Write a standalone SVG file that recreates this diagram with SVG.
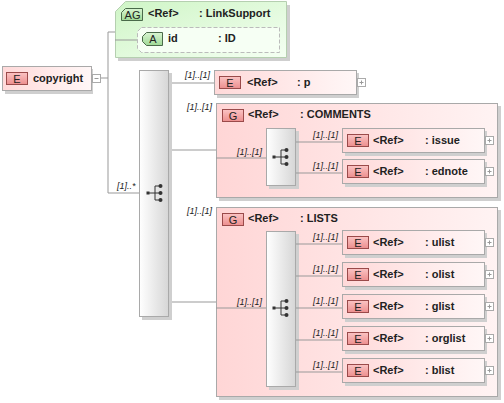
<svg xmlns="http://www.w3.org/2000/svg" width="504" height="403" viewBox="0 0 504 403">
<defs>
<linearGradient id="gEl" x1="0" y1="0" x2="1" y2="0"><stop offset="0" stop-color="#ffd9d9"/><stop offset="1" stop-color="#fff7f7"/></linearGradient>
<linearGradient id="gGrp" x1="0" y1="0" x2="1" y2="0"><stop offset="0" stop-color="#ffd6d6"/><stop offset="1" stop-color="#fff3f3"/></linearGradient>
<linearGradient id="gSeq" x1="0" y1="0" x2="1" y2="0"><stop offset="0" stop-color="#ffffff"/><stop offset="1" stop-color="#d6d6d6"/></linearGradient>
<linearGradient id="gBadge" x1="0" y1="0" x2="0" y2="1"><stop offset="0" stop-color="#fbc4c4"/><stop offset="1" stop-color="#ec8e8e"/></linearGradient>
<linearGradient id="gGreen" x1="0" y1="0" x2="1" y2="1"><stop offset="0" stop-color="#cff5c6"/><stop offset="1" stop-color="#f4fff2"/></linearGradient>
<linearGradient id="gGBadge" x1="0" y1="0" x2="0" y2="1"><stop offset="0" stop-color="#d9f5d2"/><stop offset="1" stop-color="#9fd996"/></linearGradient>
<g id="seqIcon">
<rect x="-8.5" y="-1.5" width="3" height="3" fill="#333"/>
<path d="M-6 0H0M0 -7V7M0 -7H5M0 0H5M0 7H5" stroke="#333" stroke-width="1" fill="none"/>
<circle cx="5.5" cy="-7" r="2" fill="#333"/><circle cx="5.5" cy="0" r="2" fill="#333"/><circle cx="5.5" cy="7" r="2" fill="#333"/>
</g>
<g id="plus"><rect x="0.5" y="0.5" width="8" height="8" fill="#fff" stroke="#aaa"/><path d="M2.5 4.5H6.5M4.5 2.5V6.5" stroke="#999"/></g>
</defs>
<style>
.t{font-family:"Liberation Sans",Arial,sans-serif;font-size:11px;font-weight:bold;fill:#222}
.c{font-family:"Liberation Sans",Arial,sans-serif;font-size:9px;font-style:italic;fill:#222}
.bl{font-family:"Liberation Sans",Arial,sans-serif;font-size:11px;fill:#222;text-anchor:middle}
.el{fill:url(#gEl);stroke:#a9a9a9}
.grp{fill:url(#gGrp);stroke:#a9a9a9}
.sh{fill:#cfcfcf}
.seq{fill:url(#gSeq);stroke:#a9a9a9}
.bd{fill:url(#gBadge);stroke:#9a4a4a}
.ln{stroke:#999;fill:none}
</style>
<g id="COMMENTS">
<rect class="sh" x="219" y="106" width="282" height="95"/>
<rect class="grp" x="216.5" y="103.5" width="281" height="94"/>
<rect class="bd" x="222.5" y="109.5" width="21" height="12"/>
<text class="bl" x="233" y="119.5">G</text>
<text class="t" x="248" y="118">&lt;Ref&gt;</text>
<text class="t" x="300" y="118">: COMMENTS</text>
<rect class="sh" x="269" y="131" width="30" height="58"/>
<rect class="seq" x="266.5" y="128.5" width="29" height="57"/>
<use href="#seqIcon" x="281" y="157"/>
</g>
<g id="LISTS">
<rect class="sh" x="219" y="210" width="282" height="190"/>
<rect class="grp" x="216.5" y="207.5" width="281" height="189"/>
<rect class="bd" x="222.5" y="213.5" width="21" height="12"/>
<text class="bl" x="233" y="223.5">G</text>
<text class="t" x="248" y="222">&lt;Ref&gt;</text>
<text class="t" x="300" y="222">: LISTS</text>
<rect class="sh" x="269" y="234" width="30" height="156"/>
<rect class="seq" x="266.5" y="231.5" width="29" height="155"/>
<use href="#seqIcon" x="281" y="308"/>
</g>
<g id="connectors">
<path class="ln" d="M100 78H108M108 32V193H139M108 32H115M115 40H137"/>
<path class="ln" d="M169 83H214M169 150H216M169 302H216"/>
<path class="ln" d="M216 158H266M296 142H342M296 173H342"/>
<path class="ln" d="M216 308H266M296 244H342M296 276H342M296 308H342M296 340H342M296 372H342"/>
<text class="c" x="117" y="189">[1]..*</text>
<text class="c" x="210" y="78" text-anchor="end">[1]..[1]</text>
<text class="c" x="212" y="110" text-anchor="end">[1]..[1]</text>
<text class="c" x="262" y="155" text-anchor="end">[1]..[1]</text>
<text class="c" x="338" y="138" text-anchor="end">[1]..[1]</text>
<text class="c" x="338" y="169" text-anchor="end">[1]..[1]</text>
<text class="c" x="212" y="214" text-anchor="end">[1]..[1]</text>
<text class="c" x="262" y="305" text-anchor="end">[1]..[1]</text>
<text class="c" x="338" y="240" text-anchor="end">[1]..[1]</text>
<text class="c" x="338" y="272" text-anchor="end">[1]..[1]</text>
<text class="c" x="338" y="304" text-anchor="end">[1]..[1]</text>
<text class="c" x="338" y="336" text-anchor="end">[1]..[1]</text>
<text class="c" x="338" y="368" text-anchor="end">[1]..[1]</text>
</g>
<g id="copyright">
<rect class="sh" x="5" y="69" width="88" height="25"/>
<rect class="el" x="2.5" y="66.5" width="89" height="24"/>
<rect class="bd" x="6.5" y="72.5" width="21" height="12"/>
<text class="bl" x="17" y="82.5">E</text>
<text class="t" x="33" y="82">copyright</text>
<rect x="92.5" y="74.5" width="8" height="8" fill="#fff" stroke="#aaa"/><path d="M94.5 78.5H98.5" stroke="#999"/>
</g>
<g id="LinkSupport">
<polygon class="sh" points="128,5 290,5 290,61 118,61 118,15"/>
<polygon points="125.5,1.5 286.5,1.5 286.5,57.5 115.5,57.5 115.5,11.5" fill="url(#gGreen)" stroke="#b5cfb0"/>
<path class="ln" d="M115 40H137"/>
<polygon points="125.5,8.5 142.5,8.5 142.5,20.5 121.5,20.5 121.5,12.5" fill="url(#gGBadge)" stroke="#4a6a4a"/>
<text class="bl" x="132.5" y="18.5">AG</text>
<text class="t" x="148" y="17">&lt;Ref&gt;</text>
<text class="t" x="199" y="17">: LinkSupport</text>
<g id="attr-id">
<polygon points="141.5,27.5 279.5,27.5 279.5,52.5 141.5,52.5 137.5,48.5 137.5,31.5" fill="#f6fff4" stroke="#bbb" stroke-dasharray="4,2"/>
<polygon points="146.5,32.5 162.5,32.5 162.5,45.5 146.5,45.5 142.5,41.5 142.5,36.5" fill="url(#gGBadge)" stroke="#4a6a4a"/>
<text class="bl" x="153" y="43">A</text>
<text class="t" x="168" y="42">id</text>
<text class="t" x="218" y="42">: ID</text>
</g>
</g>
<g id="seq-main">
<rect class="sh" x="142" y="73" width="30" height="247"/>
<rect class="seq" x="139.5" y="70.5" width="29" height="246"/>
<use href="#seqIcon" x="155" y="193"/>
</g>
<g id="p">
<rect class="sh" x="217" y="73" width="142" height="25"/>
<rect class="el" x="214.5" y="70.5" width="142" height="24"/>
<rect class="bd" x="219.5" y="76.5" width="21" height="12"/>
<text class="bl" x="230" y="86.5">E</text>
<text class="t" x="247" y="86">&lt;Ref&gt;</text>
<text class="t" x="297" y="86">: p</text>
<use href="#plus" x="357" y="78"/>
</g>
<g id="issue">
<rect class="sh" x="345" y="131" width="142" height="25"/>
<rect class="el" x="342.5" y="128.5" width="142" height="24"/>
<rect class="bd" x="347.5" y="134.5" width="21" height="12"/>
<text class="bl" x="358" y="144.5">E</text>
<text class="t" x="373" y="144">&lt;Ref&gt;</text>
<text class="t" x="425" y="144">: issue</text>
<use href="#plus" x="485" y="136"/>
</g>
<g id="ednote">
<rect class="sh" x="345" y="162" width="142" height="25"/>
<rect class="el" x="342.5" y="159.5" width="142" height="24"/>
<rect class="bd" x="347.5" y="165.5" width="21" height="12"/>
<text class="bl" x="358" y="175.5">E</text>
<text class="t" x="373" y="175">&lt;Ref&gt;</text>
<text class="t" x="425" y="175">: ednote</text>
<use href="#plus" x="485" y="167"/>
</g>
<g id="ulist">
<rect class="sh" x="345" y="233" width="142" height="25"/>
<rect class="el" x="342.5" y="230.5" width="142" height="24"/>
<rect class="bd" x="347.5" y="236.5" width="21" height="12"/>
<text class="bl" x="358" y="246.5">E</text>
<text class="t" x="373" y="246">&lt;Ref&gt;</text>
<text class="t" x="425" y="246">: ulist</text>
<use href="#plus" x="485" y="238"/>
</g>
<g id="olist">
<rect class="sh" x="345" y="265" width="142" height="25"/>
<rect class="el" x="342.5" y="262.5" width="142" height="24"/>
<rect class="bd" x="347.5" y="268.5" width="21" height="12"/>
<text class="bl" x="358" y="278.5">E</text>
<text class="t" x="373" y="278">&lt;Ref&gt;</text>
<text class="t" x="425" y="278">: olist</text>
<use href="#plus" x="485" y="270"/>
</g>
<g id="glist">
<rect class="sh" x="345" y="297" width="142" height="25"/>
<rect class="el" x="342.5" y="294.5" width="142" height="24"/>
<rect class="bd" x="347.5" y="300.5" width="21" height="12"/>
<text class="bl" x="358" y="310.5">E</text>
<text class="t" x="373" y="310">&lt;Ref&gt;</text>
<text class="t" x="425" y="310">: glist</text>
<use href="#plus" x="485" y="302"/>
</g>
<g id="orglist">
<rect class="sh" x="345" y="329" width="142" height="25"/>
<rect class="el" x="342.5" y="326.5" width="142" height="24"/>
<rect class="bd" x="347.5" y="332.5" width="21" height="12"/>
<text class="bl" x="358" y="342.5">E</text>
<text class="t" x="373" y="342">&lt;Ref&gt;</text>
<text class="t" x="425" y="342">: orglist</text>
<use href="#plus" x="485" y="334"/>
</g>
<g id="blist">
<rect class="sh" x="345" y="361" width="142" height="25"/>
<rect class="el" x="342.5" y="358.5" width="142" height="24"/>
<rect class="bd" x="347.5" y="364.5" width="21" height="12"/>
<text class="bl" x="358" y="374.5">E</text>
<text class="t" x="373" y="374">&lt;Ref&gt;</text>
<text class="t" x="425" y="374">: blist</text>
<use href="#plus" x="485" y="366"/>
</g>
</svg>
